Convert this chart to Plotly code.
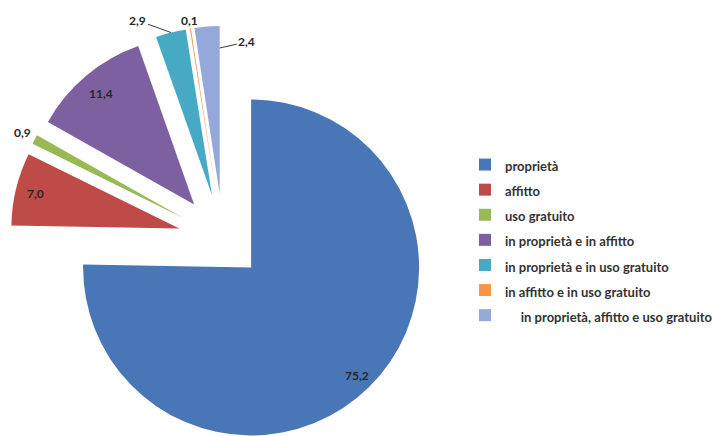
import math
import plotly.graph_objects as go

# Tenure of the dwelling (percent of households)
categories = [
    "proprietà",
    "affitto",
    "uso gratuito",
    "in proprietà e in affitto",
    "in proprietà e in uso gratuito",
    "in affitto e in uso gratuito",
    "in proprietà, affitto e uso gratuito",
]
shares = [75.2, 7.0, 0.9, 11.4, 2.9, 0.1, 2.4]

colors = ["#4876B6", "#BE4B48", "#98B954", "#7D60A0", "#46AAC5", "#F79646", "#95A8DA"]
pulls = [0.238, 0.268, 0.268, 0.268, 0.268, 0.268, 0.268]

FIG_W, FIG_H = 718, 452
PIE_X = [0.0, 0.624]
PIE_Y = [0.0, 0.9425]
FONT = "Lato"
TEXT_COLOR = "#262626"

# value-label placement per slice: radial factor along the bisector, or a
# leader line from a point of the slice (fraction of its sweep, radial factor)
label_place = [
    dict(r=0.90),
    dict(r=0.885),
    dict(r=1.09),
    dict(r=0.865),
    dict(edge=0.5, r=1.0, ax=-33, ay=-12),
    dict(r=1.05),
    dict(edge=1.0, r=0.87, ax=27, ay=-6),
]
legend_indent = ["", "", "", "", "", "", "\u00a0" * 5]

fig = go.Figure(
    go.Pie(
        labels=[f"<span style='font-size:13px'>{ind}{c}</span>"
                for ind, c in zip(legend_indent, categories)],
        values=shares,
        sort=False,
        direction="clockwise",
        rotation=0,
        pull=pulls,
        marker=dict(colors=colors, line=dict(width=0)),
        textinfo="none",
        domain=dict(x=PIE_X, y=PIE_Y),
        hovertemplate="%{label}: %{value}<extra></extra>",
    )
)

# pie geometry as laid out by plotly (zero margins)
box_w = FIG_W * (PIE_X[1] - PIE_X[0])
box_h = FIG_H * (PIE_Y[1] - PIE_Y[0])
radius = min(box_w, box_h) / (2 + 2 * max(pulls))
cx = FIG_W * (PIE_X[0] + PIE_X[1]) / 2
cy = FIG_H * (2 - PIE_Y[0] - PIE_Y[1]) / 2
total = sum(shares)

label_font = dict(family=FONT, size=12, color=TEXT_COLOR, weight="bold")
annotations = []
acc = 0.0
for v, place, pull in zip(shares, label_place, pulls):
    a0 = 2 * math.pi * acc / total
    a1 = 2 * math.pi * (acc + v) / total
    acc += v
    mid = (a0 + a1) / 2
    ox = cx + pull * radius * math.sin(mid)
    oy = cy - pull * radius * math.cos(mid)
    text = f"{v:.1f}".replace(".", ",")
    if "edge" in place:
        ang = a0 + place["edge"] * (a1 - a0)
        px = ox + place["r"] * radius * math.sin(ang)
        py = oy - place["r"] * radius * math.cos(ang)
        annotations.append(dict(
            x=px / FIG_W, y=1 - py / FIG_H, xref="paper", yref="paper",
            xanchor="center", yanchor="middle",
            text=text, showarrow=True, arrowhead=0, arrowwidth=1,
            arrowcolor="#3a3a3a", ax=place["ax"], ay=place["ay"],
            font=label_font,
        ))
    else:
        px = ox + place["r"] * radius * math.sin(mid)
        py = oy - place["r"] * radius * math.cos(mid)
        annotations.append(dict(
            x=px / FIG_W, y=1 - py / FIG_H, xref="paper", yref="paper",
            xanchor="center", yanchor="middle",
            text=text, showarrow=False, font=label_font,
        ))

fig.update_layout(
    width=FIG_W,
    height=FIG_H,
    autosize=False,
    margin=dict(l=0, r=0, t=0, b=0),
    paper_bgcolor="white",
    plot_bgcolor="white",
    annotations=annotations,
    showlegend=True,
    legend=dict(
        x=467 / FIG_W, xanchor="left",
        y=1 - 147 / FIG_H, yanchor="top",
        font=dict(family=FONT, size=17, color="#333333", weight="bold"),
        bgcolor="rgba(0,0,0,0)",
    ),
)

fig.write_html("out.html")
